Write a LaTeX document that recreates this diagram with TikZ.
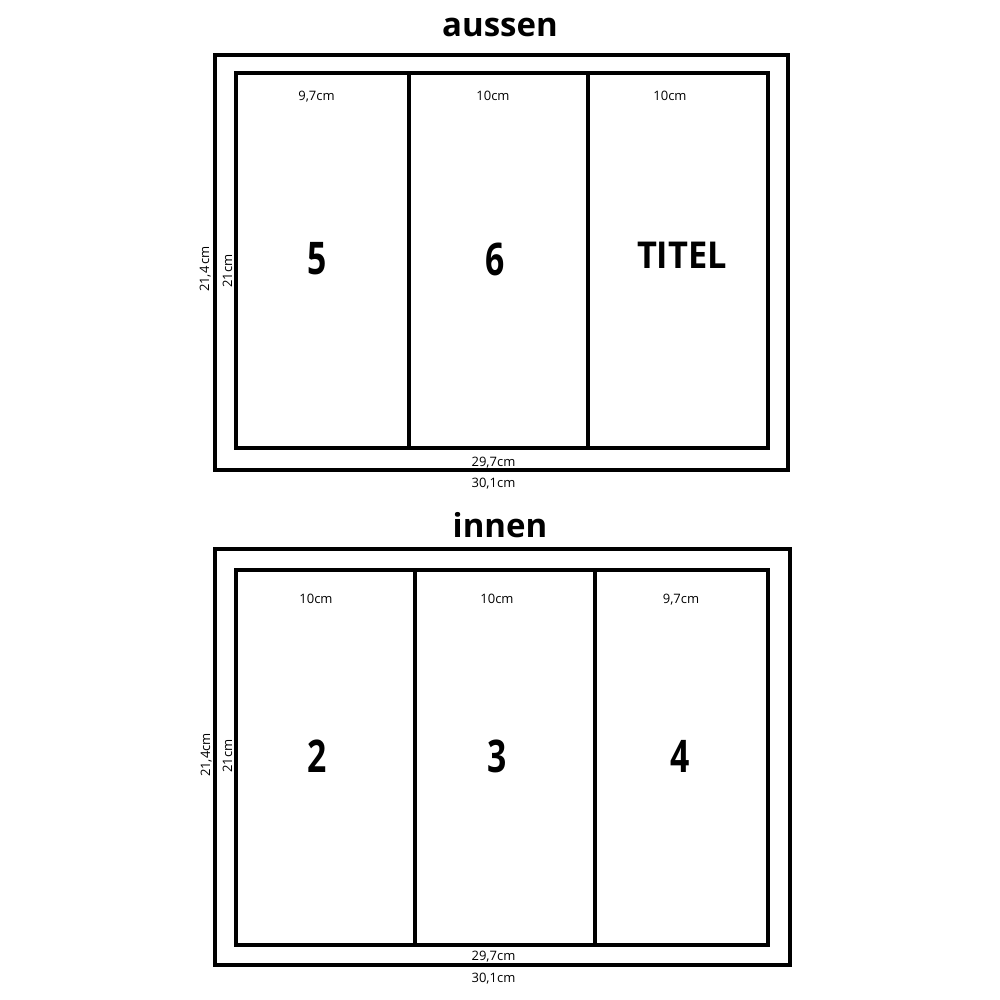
\documentclass[tikz,border=0pt]{standalone}
\usepackage{fontspec}
\setmainfont{Open Sans}
\begin{document}
\begin{tikzpicture}[x=1pt,y=-1pt,
  frame/.style={draw=black,line width=4pt,line join=miter},
  title/.style={anchor=base,inner sep=0pt,font=\fontsize{33}{33}\selectfont\bfseries},
  big/.style={anchor=center,inner sep=0pt,font=\fontsize{45}{45}\selectfont\bfseries},
  dim/.style={anchor=base,inner sep=0pt,font=\fontsize{13}{13}\selectfont},
  vdim/.style={anchor=base,inner sep=0pt,rotate=90,font=\fontsize{13}{13}\selectfont}]
\useasboundingbox (0,0) rectangle (1000,1000);
% ---------- aussen ----------
\node[title] (t1) at (500,37) {aussen};
\draw[frame] (215,55) rectangle (788,470);
\draw[frame] (235.5,73) rectangle (768,448);
\coordinate (a1t) at (409,73); \coordinate (a1b) at (409,448);
\coordinate (a2t) at (588,73); \coordinate (a2b) at (588,448);
\draw[frame] (a1t) -- (a1b);
\draw[frame] (a2t) -- (a2b);
\node[dim] (w1) at (316.5,101) {9,7cm};
\node[dim] (w2) at (493,101) {10cm};
\node[dim] (w3) at (670,101) {10cm};
\node[big] (p5) at (317,259) {\scalebox{0.75}[1]{5}};
\node[big] (p6) at (495,259) {\scalebox{0.75}[1]{6}};
\node[anchor=center,inner sep=0pt,font=\fontsize{37}{37}\selectfont\bfseries] (pt) at (682,255) {\scalebox{0.93}[1]{TITEL}};
\node[dim] (iw1) at (493.5,466) {29,7cm};
\node[dim] (ow1) at (493.5,487) {30,1cm};
\node[vdim] (oh1) at (209,269) {21,4\,cm};
\node[vdim] (ih1) at (232,271) {21cm};
% ---------- innen ----------
\node[title] (t2) at (500,537) {innen};
\draw[frame] (215,549) rectangle (790,965);
\draw[frame] (235.5,570) rectangle (768,944.5);
\coordinate (b1t) at (415,570); \coordinate (b1b) at (415,944.5);
\coordinate (b2t) at (594.5,570); \coordinate (b2b) at (594.5,944.5);
\draw[frame] (b1t) -- (b1b);
\draw[frame] (b2t) -- (b2b);
\node[dim] (v1) at (316,603) {10cm};
\node[dim] (v2) at (497,603) {10cm};
\node[dim] (v3) at (681,603) {9,7cm};
\node[big] (p2) at (317,756) {\scalebox{0.75}[1]{2}};
\node[big] (p3) at (497.5,756) {\scalebox{0.75}[1]{3}};
\node[big] (p4) at (680,756) {\scalebox{0.75}[1]{4}};
\node[dim] (iw2) at (493.5,960) {29,7cm};
\node[dim] (ow2) at (493.5,982) {30,1cm};
\node[vdim] (oh2) at (210,755) {21,4cm};
\node[vdim] (ih2) at (232,756) {21cm};
\end{tikzpicture}
\end{document}
